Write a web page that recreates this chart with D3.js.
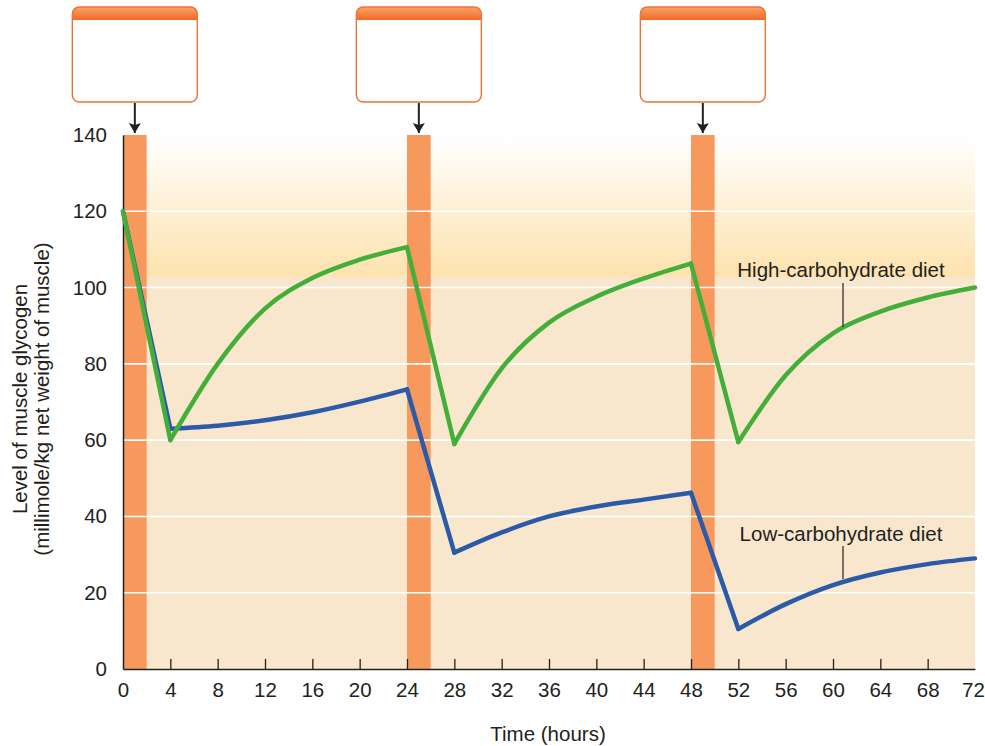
<!DOCTYPE html>
<html>
<head>
<meta charset="utf-8">
<script src="https://cdn.jsdelivr.net/npm/d3@7"></script>
<style>
  html, body { margin: 0; padding: 0; background: #fff; }
  svg { display: block; font-family: "Liberation Sans", Arial, Helvetica, sans-serif; }
</style>
</head>
<body>
<svg id="chart" width="985" height="746"></svg>
<script>
// Time in hours at which each reading was taken
const hours = [0, 4, 8, 12, 16, 20, 24, 28, 32, 36, 40, 44, 48, 52, 56, 60, 64, 68, 72];
// Muscle glycogen, millimole/kg net weight of muscle
const highCarb = [120, 60, 80, 94.5, 102.5, 107.3, 110.6, 59, 78.8, 90.8, 97.6, 102.4, 106.3, 59.5, 77, 88, 93.7, 97.4, 100];
const lowCarb  = [120, 63, 63.8, 65.2, 67.3, 70.1, 73.3, 30.5, 35.8, 40, 42.6, 44.4, 46.2, 10.5, 17, 22, 25.3, 27.5, 29];
// Exercise bouts [start, end] in hours
const exerciseBouts = [[0, 2], [24, 26], [48, 50]];
// Index of the reading at which each exercise bout begins
const boutStartIndex = [0, 6, 12];
const xTicks = d3.range(0, 73, 4);
const yTicks = [0, 20, 40, 60, 80, 100, 120, 140];
const saturationLevel = 102.8;

const svg = d3.select("#chart");
const x = d3.scaleLinear().domain([0, 72]).range([123, 975]);
const y = d3.scaleLinear().domain([0, 140]).range([669, 135]);
const FS = 20.5;
const ink = "#231f20";

const defs = svg.append("defs");
const fade = defs.append("linearGradient").attr("id", "fade")
  .attr("x1", 0).attr("y1", 0).attr("x2", 0).attr("y2", 1);
fade.append("stop").attr("offset", "0%").attr("stop-color", "#ffffff");
fade.append("stop").attr("offset", "100%").attr("stop-color", "#fde2ae");
const header = defs.append("linearGradient").attr("id", "header")
  .attr("x1", 0).attr("y1", 0).attr("x2", 0).attr("y2", 1);
header.append("stop").attr("offset", "0%").attr("stop-color", "#f9a46a");
header.append("stop").attr("offset", "100%").attr("stop-color", "#f26a22");

// Background bands
svg.append("rect")
  .attr("x", x(0)).attr("y", y(140))
  .attr("width", x(72) - x(0)).attr("height", y(saturationLevel) - y(140))
  .attr("fill", "url(#fade)");
svg.append("rect")
  .attr("x", x(0)).attr("y", y(saturationLevel))
  .attr("width", x(72) - x(0)).attr("height", y(0) - y(saturationLevel))
  .attr("fill", "#f8e7cd");

// Exercise bars
svg.selectAll("rect.bout").data(exerciseBouts).enter().append("rect")
  .attr("class", "bout")
  .attr("x", d => x(d[0])).attr("y", y(140))
  .attr("width", d => x(d[1]) - x(d[0])).attr("height", y(0) - y(140))
  .attr("fill", "#f7995d");

// Gridlines
svg.selectAll("line.grid").data(yTicks.filter(v => v > 0 && v < 140)).enter().append("line")
  .attr("class", "grid")
  .attr("x1", x(0)).attr("x2", x(72))
  .attr("y1", d => y(d)).attr("y2", d => y(d))
  .attr("stroke", "#ffffff").attr("stroke-width", 1.6);

// Axes
const xAxis = svg.append("g").attr("transform", `translate(0,${y(0)})`)
  .call(d3.axisBottom(x).tickValues(xTicks).tickSize(0).tickPadding(13));
xAxis.select(".domain").attr("stroke", "#222").attr("stroke-width", 1.5);
xAxis.selectAll("text").attr("font-size", FS).attr("fill", ink);
// keep the last label inside the page edge
xAxis.selectAll(".tick").filter(d => d === 72).select("text").attr("dx", -2);
xAxis.selectAll(".tick").filter(d => d > 0 && d < 72).append("line")
  .attr("y1", 0).attr("y2", -10).attr("stroke", ink).attr("stroke-width", 1.3);

const yAxis = svg.append("g").attr("transform", `translate(${x(0)},0)`)
  .call(d3.axisLeft(y).tickValues(yTicks).tickSize(0).tickPadding(16));
yAxis.select(".domain").attr("stroke", "#222").attr("stroke-width", 1.5);
yAxis.selectAll("text").attr("font-size", FS).attr("fill", ink);

// Curves: straight drops during exercise, smooth recovery afterwards
function drawSeries(values, color) {
  const pts = hours.map((h, i) => [h, values[i]]);
  const g = svg.append("g").attr("fill", "none").attr("stroke", color)
    .attr("stroke-width", 4.5).attr("stroke-linecap", "round").attr("stroke-linejoin", "round");
  const smooth = d3.line().x(d => x(d[0])).y(d => y(d[1])).curve(d3.curveMonotoneX);
  const straight = d3.line().x(d => x(d[0])).y(d => y(d[1]));
  boutStartIndex.forEach((s, k) => {
    g.append("path").attr("d", straight(pts.slice(s, s + 2)));
    const end = k + 1 < boutStartIndex.length ? boutStartIndex[k + 1] : pts.length - 1;
    g.append("path").attr("d", smooth(pts.slice(s + 1, end + 1)));
  });
}
drawSeries(lowCarb, "#2b5aa8");
drawSeries(highCarb, "#43ae3a");

// Series labels with leader lines
const labels = [
  { text: "High-carbohydrate diet", tx: 841, ty: 277, lx: 843, ly1: 283, ly2: 327 },
  { text: "Low-carbohydrate diet", tx: 841, ty: 541, lx: 843, ly1: 546, ly2: 579 }
];
labels.forEach(l => {
  svg.append("text").attr("x", l.tx).attr("y", l.ty).attr("text-anchor", "middle")
    .attr("font-size", FS).attr("fill", ink).text(l.text);
  svg.append("line").attr("x1", l.lx).attr("x2", l.lx).attr("y1", l.ly1).attr("y2", l.ly2)
    .attr("stroke", ink).attr("stroke-width", 1.2);
});

// Axis titles
svg.append("text").attr("x", 548).attr("y", 741).attr("text-anchor", "middle")
  .attr("font-size", FS).attr("fill", ink).text("Time (hours)");
const yTitle = svg.append("text").attr("transform", "translate(27,399) rotate(-90)")
  .attr("text-anchor", "middle").attr("font-size", FS).attr("fill", ink);
yTitle.append("tspan").attr("x", 0).attr("dy", 0).text("Level of muscle glycogen");
yTitle.append("tspan").attr("x", 0).attr("dy", 22).text("(millimole/kg net weight of muscle)");

// Callout boxes above each exercise bout, with arrows
defs.append("marker").attr("id", "arrow").attr("viewBox", "0 0 10 14")
  .attr("refX", 10).attr("refY", 7).attr("markerWidth", 10).attr("markerHeight", 14)
  .attr("markerUnits", "userSpaceOnUse").attr("orient", "auto")
  .append("path").attr("d", "M0,1 L10,7 L0,13 L2,7 Z").attr("fill", ink);

exerciseBouts.forEach(b => {
  const cx = x((b[0] + b[1]) / 2);
  const bw = 125, bx = cx - bw / 2, by = 7, bh = 95;
  const g = svg.append("g");
  g.append("rect").attr("x", bx).attr("y", by).attr("width", bw).attr("height", bh)
    .attr("rx", 7).attr("fill", "#ffffff");
  g.append("path")
    .attr("d", `M${bx},${by + 13} L${bx},${by + 6} Q${bx},${by} ${bx + 6},${by} L${bx + bw - 6},${by} Q${bx + bw},${by} ${bx + bw},${by + 6} L${bx + bw},${by + 13} Z`)
    .attr("fill", "url(#header)");
  g.append("rect").attr("x", bx).attr("y", by).attr("width", bw).attr("height", bh)
    .attr("rx", 7).attr("fill", "none").attr("stroke", "#f07233").attr("stroke-width", 1.4);
  g.append("line").attr("x1", cx).attr("x2", cx).attr("y1", by + bh + 1).attr("y2", 133)
    .attr("stroke", ink).attr("stroke-width", 2).attr("marker-end", "url(#arrow)");
});
</script>
</body>
</html>
